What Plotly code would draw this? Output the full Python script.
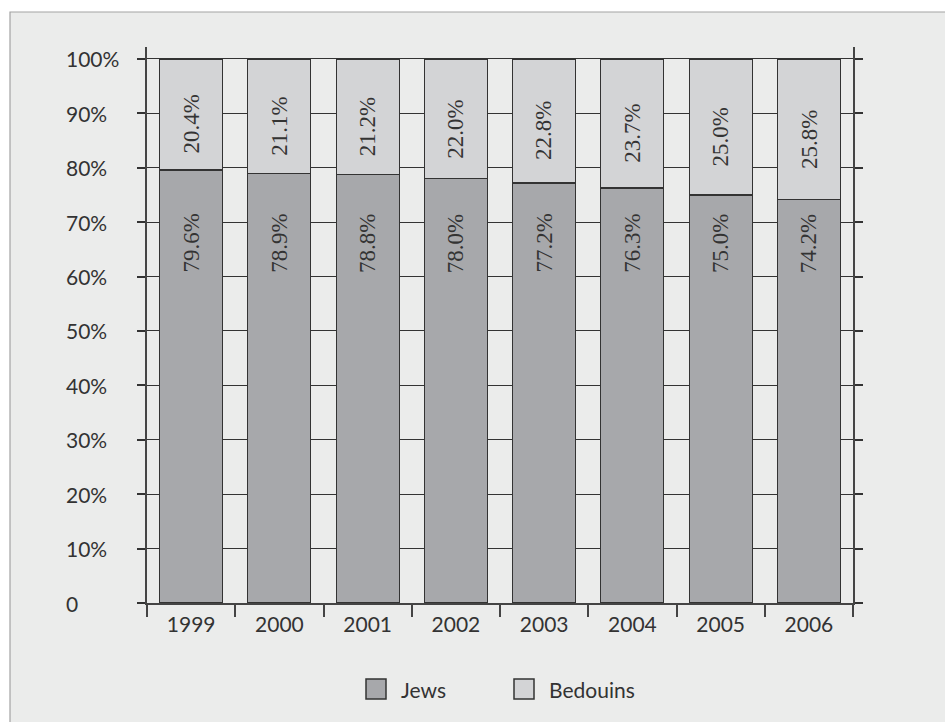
import plotly.graph_objects as go

# Share of population by group, 1999-2006 (percent)
years = ["1999", "2000", "2001", "2002", "2003", "2004", "2005", "2006"]
jews = [79.6, 78.9, 78.8, 78.0, 77.2, 76.3, 75.0, 74.2]
bedouins = [20.4, 21.1, 21.2, 22.0, 22.8, 23.7, 25.0, 25.8]
y_ticks = [0, 10, 20, 30, 40, 50, 60, 70, 80, 90, 100]
y_tick_text = ["0", "10%", "20%", "30%", "40%", "50%", "60%", "70%", "80%", "90%", "100%"]

W, H = 945, 722
L, R, T, B = 147, 92, 47, 119
PW, PH = W - L - R, H - T - B

JEW_COLOR = "#a7a8ab"
BED_COLOR = "#d3d4d6"
BG = "#ebeceb"
INK = "#333333"
SANS = "Lato, 'Noto Sans', sans-serif"
SERIF = "'Liberation Serif', 'DejaVu Serif', serif"
JEW_LABEL_Y = 66.1


def px_x(px):
    return (px - L) / PW


def px_y(py):
    return (H - B - py) / PH


fig = go.Figure()
fig.add_trace(go.Bar(x=years, y=jews, name="Jews", marker=dict(color=JEW_COLOR, line=dict(color=INK, width=1.2))))
fig.add_trace(go.Bar(x=years, y=bedouins, name="Bedouins", marker=dict(color=BED_COLOR, line=dict(color=INK, width=1.2))))

annotations = []
# value labels, rotated to read bottom-to-top (x given as category index)
for i, (j, b) in enumerate(zip(jews, bedouins)):
    annotations.append(dict(x=i, y=JEW_LABEL_Y, text=f"{j:.1f}%", textangle=-90, showarrow=False,
                            font=dict(family=SERIF, size=23, color=INK)))
    annotations.append(dict(x=i, y=j + b / 2, yshift=-10, text=f"{b:.1f}%", textangle=-90, showarrow=False,
                            font=dict(family=SERIF, size=23, color=INK)))

# left-aligned y tick labels
for v, t in zip(y_ticks, y_tick_text):
    annotations.append(dict(xref="paper", x=px_x(64), xanchor="left", yref="y", y=v, text=t,
                            showarrow=False, font=dict(family=SANS, size=21, color=INK)))

shapes = [
    # panel frame
    dict(type="rect", xref="paper", yref="paper", x0=px_x(10), x1=px_x(960), y0=px_y(740), y1=px_y(12),
         fillcolor=BG, line=dict(color="#a3a3a3", width=1.2), layer="below"),
]

# legend
legend_items = [("Jews", JEW_COLOR, 366, 399), ("Bedouins", BED_COLOR, 514, 547)]
for name, color, sx, tx in legend_items:
    shapes.append(dict(type="rect", xref="paper", yref="paper", x0=px_x(sx), x1=px_x(sx + 20),
                       y0=px_y(699), y1=px_y(679), fillcolor=color, line=dict(color=INK, width=1.5)))
    annotations.append(dict(xref="paper", yref="paper", x=px_x(tx), y=px_y(689), xanchor="left",
                            yanchor="middle", text=name, showarrow=False,
                            font=dict(family=SANS, size=21, color=INK)))

fig.update_layout(
    width=W, height=H,
    margin=dict(l=L, r=R, t=T, b=B),
    paper_bgcolor="white",
    plot_bgcolor="rgba(0,0,0,0)",
    barmode="stack",
    bargap=0.286,
    showlegend=False,
    annotations=annotations,
    shapes=shapes,
    xaxis=dict(type="category", tickson="boundaries", ticks="outside", ticklen=12, tickwidth=1.5,
               tickcolor="#444", showline=True, linecolor="#444", linewidth=1.5, showgrid=False,
               tickfont=dict(family=SANS, size=21, color=INK), ticklabelstandoff=2, range=[-0.5, 7.5]),
    yaxis=dict(range=[0, 102.2], tickvals=y_ticks, ticks="outside", ticklen=8, tickwidth=1.5,
               tickcolor="#333", showline=True, linecolor="#444", linewidth=1.5, mirror="ticks",
               showgrid=True, gridcolor="#333", gridwidth=1.2, zeroline=False, showticklabels=False),
)

fig.write_html("out.html")
